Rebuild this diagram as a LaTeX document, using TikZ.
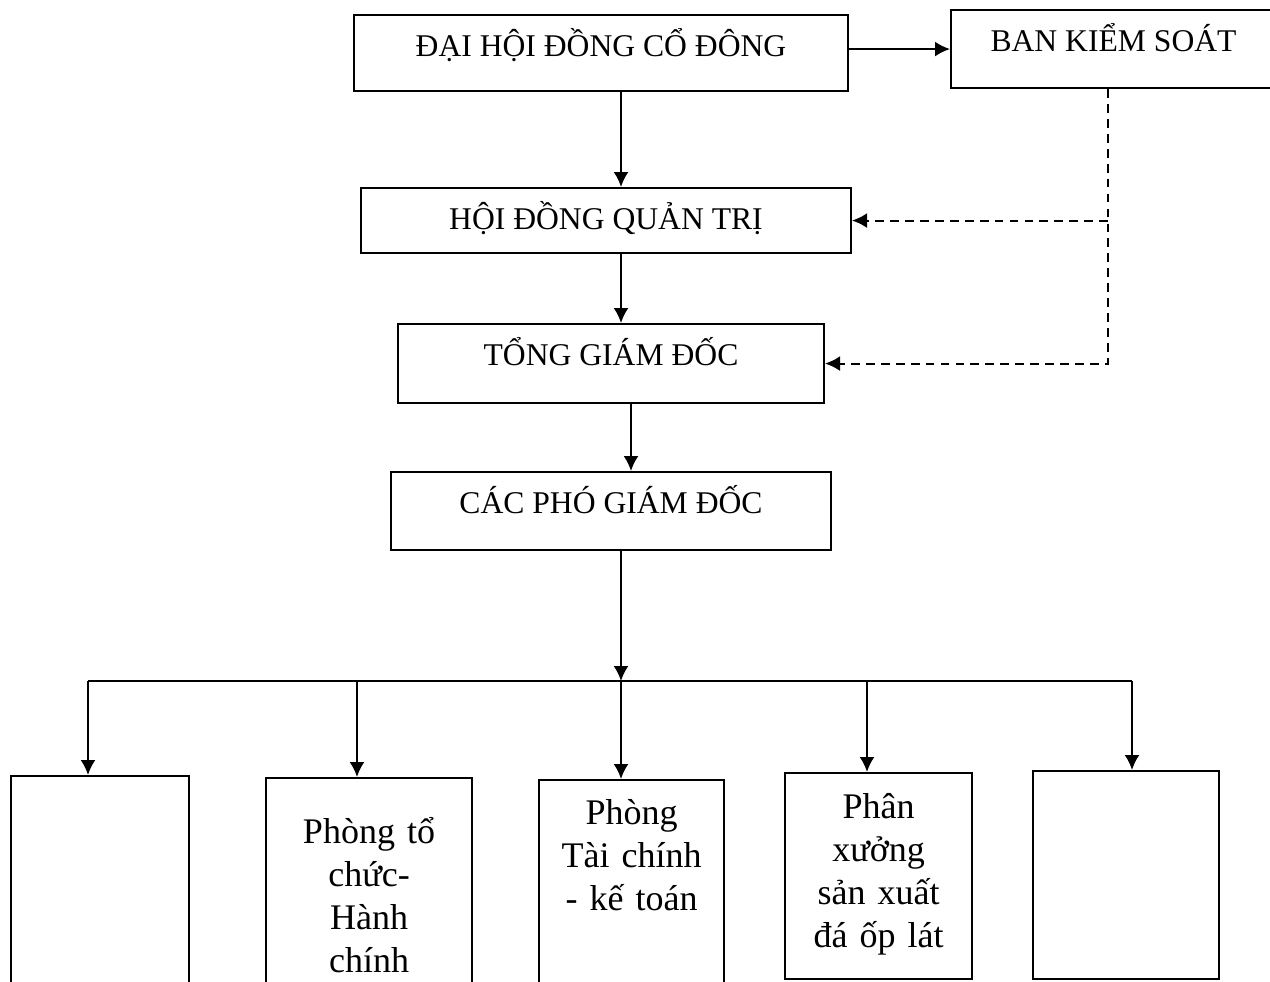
\documentclass[tikz,border=0pt]{standalone}
\usepackage{fontspec}
\setmainfont{Liberation Serif}
\usetikzlibrary{arrows.meta,positioning,calc}

\begin{document}
\begin{tikzpicture}[x=0.02cm, y=-0.02cm,
    topbox/.style={draw, line width=1.2pt, inner sep=0pt, anchor=north west,
      text height=0.82cm, font=\fontsize{18}{21}\selectfont},
    deptbox/.style={draw, line width=1.2pt, inner sep=0pt, anchor=north west,
      align=center, font=\fontsize{20.5}{24.5}\selectfont},
    arr/.style={-{Latex[length=3mm,width=3mm]}, line width=1.2pt},
    dasharr/.style={arr, dash pattern=on 5pt off 3.5pt}]
    \useasboundingbox (0,0) rectangle (1270,981);
    \clip (0,0) rectangle (1270,981);

    % upper levels
    \node[topbox, minimum width=9.88cm, text depth=0.70cm] (dhdcd) at (353,14) {ĐẠI HỘI ĐỒNG CỔ ĐÔNG};
    \node[topbox, minimum width=6.5cm, text depth=0.74cm] (bks) at (950,9) {BAN KIỂM SOÁT};
    \node[topbox, minimum width=9.8cm, text depth=0.48cm] (hdqt) at (360,187) {HỘI ĐỒNG QUẢN TRỊ};
    \node[topbox, minimum width=8.52cm, text depth=0.76cm] (tgd) at (397,323) {TỔNG GIÁM ĐỐC};
    \node[topbox, minimum width=8.8cm, text depth=0.74cm] (cpgd) at (390,471) {CÁC PHÓ GIÁM ĐỐC};

    % departments
    \node[deptbox, minimum width=3.56cm, minimum height=4.8cm] (p1) at (10,775) {};
    \node[deptbox, text width=4.12cm, text height=1.30cm, text depth=3.5cm] (p2) at (265,777) {Phòng tổ\\chức-\\Hành\\chính};
    \node[deptbox, text width=3.70cm, text height=0.88cm, text depth=3.92cm] (p3) at (538,779) {Phòng\\Tài chính\\- kế toán};
    \node[deptbox, text width=3.74cm, text height=0.90cm, text depth=3.22cm] (p4) at (784,772) {Phân\\xưởng\\sản xuất\\đá ốp lát};
    \node[deptbox, minimum width=3.72cm, minimum height=4.16cm] (p5) at (1032,770) {};

    \coordinate (spine) at (621,0);
    \coordinate (spineb) at (631,0);
    \coordinate (ctl) at (1108,0);
    \coordinate (bus) at (621,681);
    \coordinate (busl) at (88,681);
    \coordinate (busr) at (1132,681);

    \draw[arr] (dhdcd.east |- bks.west) -- (bks.west);
    \draw[arr] (dhdcd.south -| spine) -- (hdqt.north -| spine);
    \draw[arr] (hdqt.south -| spine) -- (tgd.north -| spine);
    \draw[arr] (tgd.south -| spineb) -- (cpgd.north -| spineb);
    \draw[arr] (cpgd.south -| spine) -- (bus);
    \draw[line width=1.2pt] (busl) -- (busr);
    \foreach \p/\dx in {p1/88, p2/357, p3/621, p4/867, p5/1132}
      \draw[arr] (\dx,681) -- (\p.north -| \dx,0);

    % control lines
    \draw[dasharr] (bks.south -| ctl) |- (tgd.east);
    \draw[dasharr] (ctl |- hdqt.east) -- (hdqt.east);
\end{tikzpicture}
\end{document}
